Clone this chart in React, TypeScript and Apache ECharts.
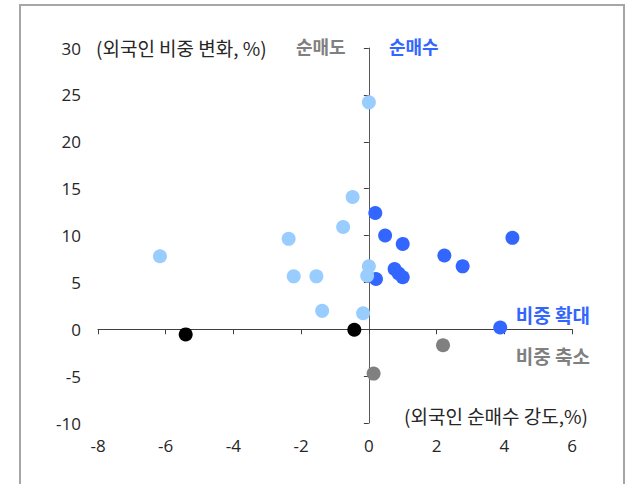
import React, { useEffect, useRef } from "react";
import * as echarts from "echarts";

const xTicks = { min: -8, max: 6, interval: 2 };
const yTicks = { min: -10, max: 30, interval: 5 };

// [외국인 순매수 강도 %, 외국인 비중 변화 %]
const buyUp: number[][] = [
  [0.19, 12.4], [0.48, 10.0], [1.0, 9.1], [0.21, 5.36], [0.76, 6.43],
  [0.88, 5.95], [1.0, 5.54], [2.23, 7.86], [2.77, 6.71], [4.24, 9.75], [3.88, 0.18],
];
const sellUp: number[][] = [
  [0.0, 24.2], [-0.48, 14.1], [-0.76, 10.9], [-2.37, 9.64], [-6.17, 7.79],
  [-2.22, 5.64], [-1.55, 5.64], [-1.38, 1.96], [-0.17, 1.71], [0.0, 6.71], [-0.05, 5.71],
];
const buyDown: number[][] = [[2.19, -1.71], [0.14, -4.73]];
const sellDown: number[][] = [[-5.41, -0.55], [-0.43, -0.05]];

const FONT = "'Noto Sans CJK KR', 'Noto Sans', sans-serif";
const NUMFONT = "'Open Sans', 'Noto Sans', sans-serif";

export default function App() {
  const ref = useRef<HTMLDivElement>(null);
  useEffect(() => {
    const chart = echarts.init(ref.current!, null, { renderer: "svg" });
    const labelStyle = { fontSize: 17, color: "#262626", fontFamily: NUMFONT };
    chart.setOption({
      animation: false,
      backgroundColor: "#fff",
      grid: { left: 98, right: 59, top: 48, bottom: 61 },
      xAxis: [
        {
          type: "value", ...xTicks, position: "bottom",
          axisLine: { show: false, onZero: false }, axisTick: { show: false },
          splitLine: { show: false },
          axisLabel: { ...labelStyle, margin: 14 },
        },
        {
          type: "value", ...xTicks, position: "bottom",
          axisLine: { show: true, onZero: true, onZeroAxisIndex: 0, lineStyle: { color: "#404040", width: 1 } },
          axisTick: { show: true, inside: false, length: 5, lineStyle: { color: "#404040" } },
          axisLabel: { show: false }, splitLine: { show: false },
        },
      ],
      yAxis: [
        {
          type: "value", ...yTicks, position: "left",
          axisLine: { show: false, onZero: false }, axisTick: { show: false },
          splitLine: { show: false },
          axisLabel: { ...labelStyle, margin: 17 },
        },
        {
          type: "value", ...yTicks, position: "left",
          axisLine: { show: true, onZero: true, onZeroAxisIndex: 0, lineStyle: { color: "#595959", width: 1 } },
          axisTick: { show: true, inside: false, length: 5, lineStyle: { color: "#404040" } },
          axisLabel: { show: false }, splitLine: { show: false },
        },
      ],
      series: [
        { type: "scatter", data: buyUp, symbolSize: 14, itemStyle: { color: "#3366FF", opacity: 1 } },
        { type: "scatter", data: sellUp, symbolSize: 14, itemStyle: { color: "#99CCFF", opacity: 1 } },
        { type: "scatter", data: buyDown, symbolSize: 14, itemStyle: { color: "#808080", opacity: 1 } },
        { type: "scatter", data: sellDown, symbolSize: 14, itemStyle: { color: "#000000", opacity: 1 } },
      ],
      graphic: [
        {
          type: "rect", shape: { x: 20, y: 5, width: 604, height: 520 }, silent: true, z: -1,
          style: { fill: "none", stroke: "#A6A6A6", lineWidth: 2 },
        },
        {
          type: "text", x: 96, y: 47,
          style: { text: "(외국인 비중 변화, %)", fontSize: 19, fill: "#262626", fontFamily: FONT, textVerticalAlign: "middle" },
        },
        {
          type: "text", x: 296, y: 46,
          style: { text: "순매도", fontSize: 18, fontWeight: "bold", fill: "#808080", fontFamily: FONT, textVerticalAlign: "middle" },
        },
        {
          type: "text", x: 389, y: 46,
          style: { text: "순매수", fontSize: 18, fontWeight: "bold", fill: "#3366FF", fontFamily: FONT, textVerticalAlign: "middle" },
        },
        {
          type: "text", x: 590, y: 314,
          style: { text: "비중 확대", fontSize: 19, fontWeight: "bold", fill: "#3366FF", fontFamily: FONT, textAlign: "right", textVerticalAlign: "middle" },
        },
        {
          type: "text", x: 590, y: 355,
          style: { text: "비중 축소", fontSize: 19, fontWeight: "bold", fill: "#808080", fontFamily: FONT, textAlign: "right", textVerticalAlign: "middle" },
        },
        {
          type: "text", x: 588, y: 415,
          style: { text: "(외국인 순매수 강도,%)", fontSize: 19, fill: "#262626", fontFamily: FONT, textAlign: "right", textVerticalAlign: "middle" },
        },
      ],
    });
    return () => chart.dispose();
  }, []);
  return <div ref={ref} style={{ width: 631, height: 484, position: "absolute", left: 0, top: 0 }} />;
}
